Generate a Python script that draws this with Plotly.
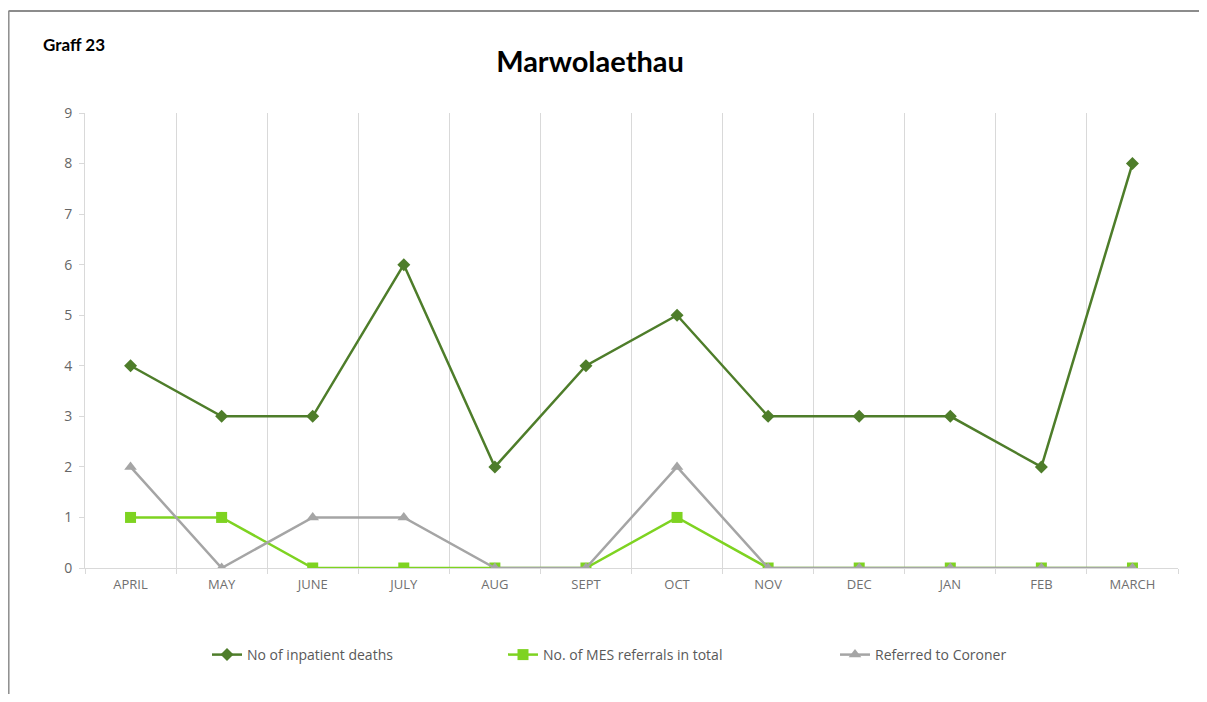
import plotly.graph_objects as go

months = ["APRIL", "MAY", "JUNE", "JULY", "AUG", "SEPT", "OCT", "NOV", "DEC", "JAN", "FEB", "MARCH"]
inpatient_deaths = [4, 3, 3, 6, 2, 4, 5, 3, 3, 3, 2, 8]
mes_referrals = [1, 1, 0, 0, 0, 0, 1, 0, 0, 0, 0, 0]
referred_coroner = [2, 0, 1, 1, 0, 0, 2, 0, 0, 0, 0, 0]

OFF = 8  # page body margin
W, H = 1207 - 2 * OFF, 702 - 2 * OFF
L, R, T, B = 85 - OFF, 1178 - OFF, 113 - OFF, 568 - OFF


def px(x):
    return (x - OFF - L) / (R - L)


def py(y):
    return (B - (y - OFF)) / (B - T)


fig = go.Figure()
fig.add_trace(go.Scatter(
    x=months, y=inpatient_deaths, mode="lines+markers", name="No of inpatient deaths",
    line=dict(color="#4E7D2A", width=2.5),
    marker=dict(symbol="diamond", size=10, color="#4E7D2A"),
    legend="legend"))
fig.add_trace(go.Scatter(
    x=months, y=mes_referrals, mode="lines+markers", name="No. of MES referrals in total",
    line=dict(color="#7ED321", width=2.5),
    marker=dict(symbol="square", size=11, color="#7ED321"),
    legend="legend2"))
fig.add_trace(go.Scatter(
    x=months, y=referred_coroner, mode="lines+markers", name="Referred to Coroner",
    line=dict(color="#A5A5A5", width=2.5),
    marker=dict(symbol="triangle-up", size=11, color="#A5A5A5"),
    legend="legend3"))

legend_common = dict(orientation="h", yanchor="middle", xanchor="left",
                     font=dict(family="Open Sans", size=14, color="#595959"),
                     bgcolor="rgba(0,0,0,0)", itemwidth=30)

fig.update_layout(
    width=W, height=H,
    showlegend=True,
    margin=dict(l=L, r=W - R, t=T, b=H - B),
    paper_bgcolor="white", plot_bgcolor="white",
    title=dict(text="<b>Marwolaethau</b>", x=(590 - OFF) / W, xanchor="center",
               y=1 - (62 - OFF) / H, yanchor="middle",
               font=dict(family="Lato", size=29, color="black")),
    xaxis=dict(type="category", tickson="boundaries", showgrid=True,
               gridcolor="#D9D9D9", gridwidth=1,
               showline=True, linecolor="#D9D9D9", linewidth=1,
               ticks="outside", ticklen=5, tickcolor="#D9D9D9",
               ticklabelstandoff=4,
               tickfont=dict(family="Open Sans", size=13, color="#707070"),
               range=[-0.5, 11.5], fixedrange=True),
    yaxis=dict(range=[0, 9], dtick=1, showgrid=False, zeroline=False,
               showline=True, linecolor="#D9D9D9", linewidth=1,
               ticks="outside", ticklen=5, tickcolor="#D9D9D9",
               ticklabelstandoff=4,
               tickfont=dict(family="Open Sans", size=14, color="#666666")),
    legend=dict(x=px(207), y=py(655), **legend_common),
    legend2=dict(x=px(503), y=py(655), **legend_common),
    legend3=dict(x=px(835), y=py(655), **legend_common),
    annotations=[dict(text="<b>Graff 23</b>", xref="paper", yref="paper",
                      x=px(41), y=py(44), xanchor="left", yanchor="middle",
                      showarrow=False,
                      font=dict(family="Lato", size=17, color="black"))],
    shapes=[
        dict(type="line", xref="paper", yref="paper", x0=px(8.5), x1=px(1199), y0=py(11), y1=py(11),
             line=dict(color="#8C8C8C", width=2)),
        dict(type="line", xref="paper", yref="paper", x0=px(8.8), x1=px(8.8), y0=py(11), y1=py(694),
             line=dict(color="#8C8C8C", width=1.5)),
    ],
)

fig.write_html("out.html")
